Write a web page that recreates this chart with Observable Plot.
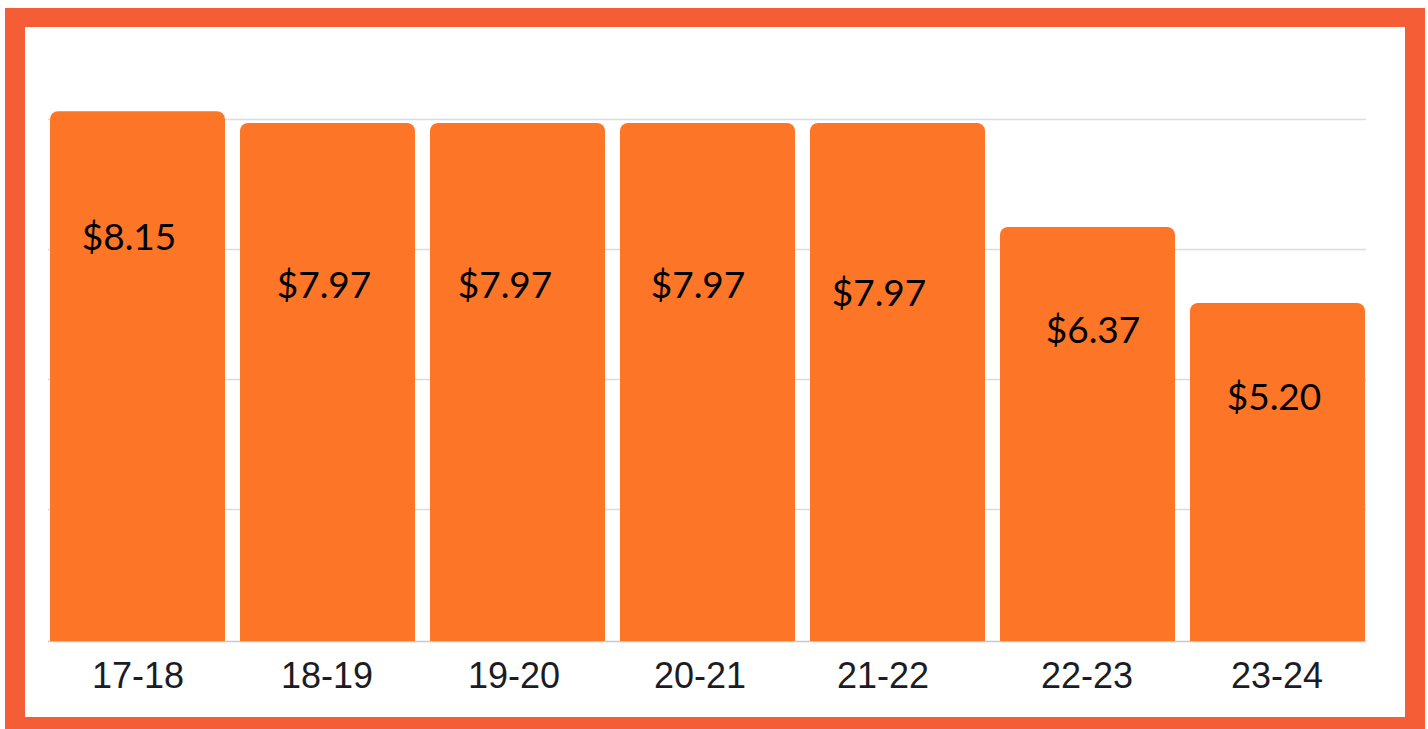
<!DOCTYPE html>
<html>
<head>
<meta charset="utf-8">
<script src="https://cdn.jsdelivr.net/npm/d3@7"></script>
<script src="https://cdn.jsdelivr.net/npm/@observablehq/plot@0.6"></script>
<style>
  html, body { margin: 0; padding: 0; background: #ffffff; overflow: hidden; width: 1428px; height: 729px; }
  #chart { position: absolute; left: 0; top: 0; }
  #frame {
    position: absolute; left: 5px; top: 8px; width: 1420px; height: 729px;
    box-sizing: border-box; border: 20px solid #F45D35; border-top-width: 19px;
    pointer-events: none;
  }
</style>
</head>
<body>
<div id="chart"></div>
<div id="frame"></div>
<script>
// ---- data ----
const years = ["17-18", "18-19", "19-20", "20-21", "21-22", "22-23", "23-24"];
const prices = [8.15, 7.97, 7.97, 7.97, 7.97, 6.37, 5.20];
const priceLabels = ["$8.15", "$7.97", "$7.97", "$7.97", "$7.97", "$6.37", "$5.20"];
const gridTicks = [2, 4, 6, 8];

const data = years.map((y, i) => ({year: y, value: prices[i], label: priceLabels[i]}));

// ---- style / layout (pixel nudges, not data) ----
const barColor = "#FD7526";
const labelDx = [-9, -4, -13, -10, -19, 5, -4];
const labelDy = [126, 163, 163, 163, 171, 104, 95];
const tickDx = [0, -1, -4, -8, -15, -1, -1];

const marks = [
  Plot.ruleY(gridTicks, {stroke: "#dcdcdc", strokeWidth: 1.6, dy: -2}),
  Plot.ruleY([0], {stroke: "#c8c8c8", strokeWidth: 1.6}),
  Plot.barY(data, {x: "year", y: "value", fill: barColor, rx: 8}),
  Plot.barY(data, {x: "year", y1: 0, y2: d => d.value / 2, fill: barColor})
];
data.forEach((d, i) => {
  marks.push(Plot.text([d], {
    x: "year", y: "value", text: "label",
    dx: labelDx[i], dy: labelDy[i],
    fill: "#000", fontSize: 37, fontFamily: "Lato", lineAnchor: "middle"
  }));
  marks.push(Plot.axisX({
    ticks: [years[i]], tickSize: 0, tickPadding: 21, dx: tickDx[i],
    fontSize: 36, fontFamily: "Liberation Sans", color: "#1c1c24", label: null
  }));
});

const chart = Plot.plot({
  width: 1428,
  height: 729,
  marginLeft: 48,
  marginRight: 62,
  marginTop: 56,
  marginBottom: 88,
  style: {background: "#ffffff", overflow: "visible"},
  x: {domain: years, paddingInner: 0.08, paddingOuter: 0, label: null, axis: null},
  y: {domain: [0, 9], axis: null},
  marks
});
document.getElementById("chart").appendChild(chart);
</script>
</body>
</html>
